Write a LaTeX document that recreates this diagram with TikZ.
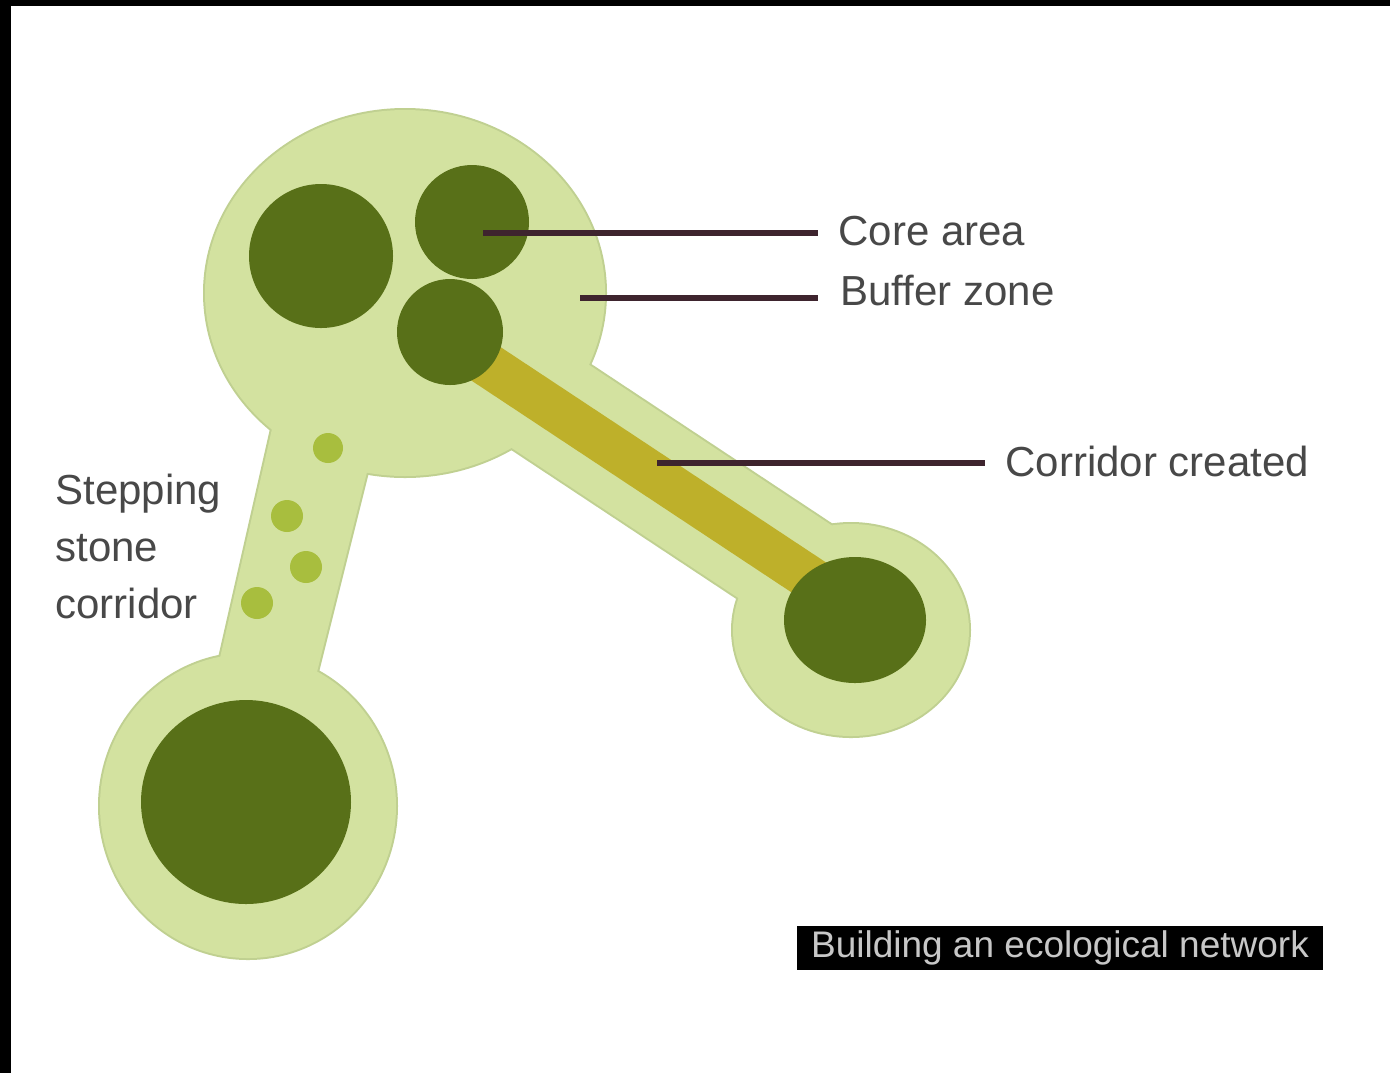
\documentclass[tikz,border=0pt]{standalone}
\usepackage{fontspec}
\setmainfont{Liberation Sans}
\definecolor{bufferfill}{RGB}{211,226,160}
\definecolor{bufferedge}{RGB}{192,208,145}
\definecolor{corecol}{RGB}{88,112,24}
\definecolor{corridorcol}{RGB}{190,176,42}
\definecolor{stonecol}{RGB}{168,190,62}
\definecolor{leadercol}{RGB}{62,36,46}
\definecolor{labelcol}{RGB}{72,72,72}
\begin{document}
\begin{tikzpicture}[x=0.5pt,y=-0.5pt,
  bufedge/.style={draw=bufferedge,line width=2pt},
  buf/.style={fill=bufferfill},
  core/.style={fill=corecol},
  stone/.style={fill=stonecol},
  leader/.style={draw=leadercol,line width=2.6pt},
  label/.style={text=labelcol,font=\fontsize{21}{25}\selectfont,inner sep=0pt,anchor=west}]
\useasboundingbox (0,0) rectangle (1390,1073);
\fill[white] (0,0) rectangle (1390,1073);
\fill[black] (0,0) rectangle (1390,6);
\fill[black] (0,0) rectangle (11,1073);
% buffer zones: edges first
\draw[bufedge] (405,293) ellipse [x radius=200, y radius=183];
\draw[bufedge] (274,420) -- (380,420) -- (315,680) -- (215,680) -- cycle;
\draw[bufedge] (248,806) ellipse [x radius=148, y radius=152];
\draw[bufedge] (851,630) ellipse [x radius=118, y radius=106];
\draw[draw=bufferedge,line width=58pt] (450,340) -- (855,608);
% buffer fills
\fill[buf] (405,293) ellipse [x radius=200, y radius=183];
\fill[buf] (274,420) -- (380,420) -- (315,680) -- (215,680) -- cycle;
\fill[buf] (248,806) ellipse [x radius=148, y radius=152];
\fill[buf] (851,630) ellipse [x radius=118, y radius=106];
\draw[draw=bufferfill,line width=56pt] (450,340) -- (855,608);
% created corridor
\draw[draw=corridorcol,line width=22pt] (450,340) -- (855,608);
% core areas
\fill[core] (321,256) circle [radius=72];
\fill[core] (472,222) circle [radius=57];
\fill[core] (450,332) circle [radius=53];
\fill[core] (855,620) ellipse [x radius=71, y radius=63];
\fill[core] (246,802) ellipse [x radius=105, y radius=102];
% stepping stones
\fill[stone] (328,448) circle [radius=15];
\fill[stone] (287,516) circle [radius=16];
\fill[stone] (306,567) circle [radius=16];
\fill[stone] (257,603) circle [radius=16];
% labels
\node[label] (corelbl) at (838,231) {Core area};
\node[label] (buflbl) at (840,290) {Buffer zone};
\node[label] (corrlbl) at (1005,461) {Corridor created};
\node[label,align=left,font=\fontsize{21}{28.5}\selectfont] (steplbl) at (55,546) {Stepping\\stone\\corridor};
\coordinate (corept) at (483,233);
\coordinate (bufpt) at (580,298);
\coordinate (corrpt) at (657,463);
\draw[leader,shorten >=10pt] (corept) -- (corept -| corelbl.west);
\draw[leader,shorten >=11pt] (bufpt) -- (bufpt -| buflbl.west);
\draw[leader,shorten >=10pt] (corrpt) -- (corrpt -| corrlbl.west);
\node[fill=black,text=white!78!black,font=\fontsize{18.5}{22}\selectfont,minimum width=263pt,minimum height=22pt,inner sep=0pt] (title) at (1060,948) {Building an ecological network};
\end{tikzpicture}
\end{document}
